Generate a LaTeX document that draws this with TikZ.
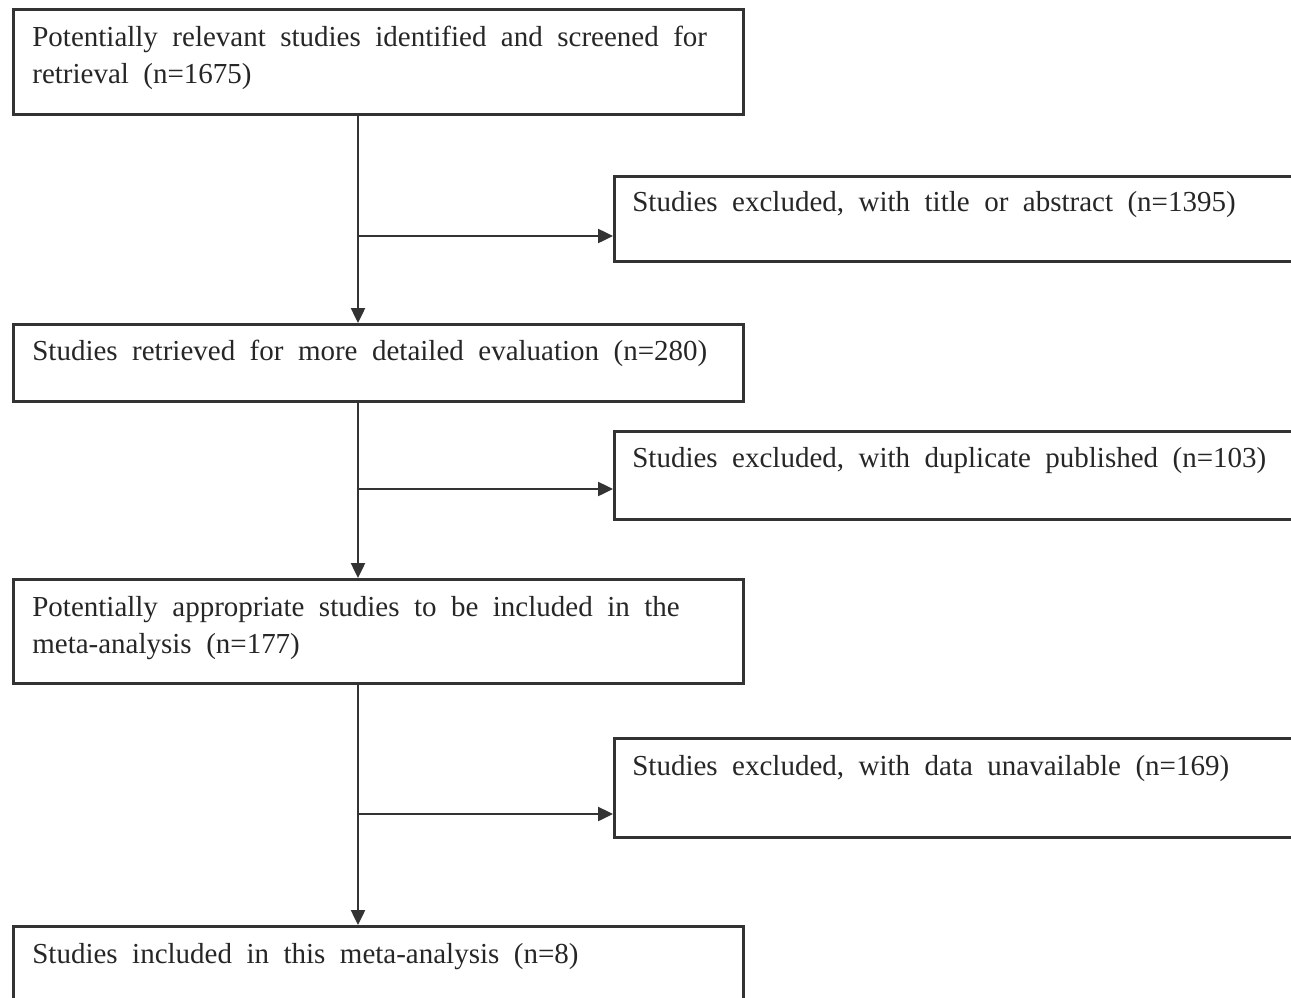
\documentclass[tikz,border=0pt]{standalone}
\usepackage{fontspec}
\setmainfont{Liberation Serif}
\usetikzlibrary{arrows.meta, positioning, calc}
\newcommand\boxfont{\fontsize{16.5}{21.6}\selectfont\spaceskip=0.5em plus 0.2em minus 0.1em}
\tikzset{
  box/.style = {rectangle, draw=black!80, line width=1.6pt, anchor=north west,
                inner sep=0pt},
  txt/.style = {anchor=base west, inner sep=0pt, align=left, text=black!85,
                font=\boxfont},
  arr/.style = {-{Triangle[length=3mm, width=2.8mm]}, line width=1.4pt,
                draw=black!80},
}

\begin{document}
\begin{tikzpicture}[x=0.02cm, y=-0.02cm]
  \useasboundingbox (0,0) rectangle (1291,997);
  \clip (0,0) rectangle (1291,997);

  % main column
  \node[box, minimum width=14.6cm, minimum height=2.1cm] (ident) at (12,8) {};
  \node[box, minimum width=14.6cm, minimum height=1.54cm] (retr) at (12,323) {};
  \node[box, minimum width=14.6cm, minimum height=2.08cm] (appr) at (12,578) {};
  \node[box, minimum width=14.6cm, minimum height=2.0cm] (incl) at (12,925) {};

  % exclusions
  \node[box, minimum width=14.6cm, minimum height=1.7cm] (excl1) at (613,175) {};
  \node[box, minimum width=14.6cm, minimum height=1.76cm] (excl2) at (613,430) {};
  \node[box, minimum width=14.6cm, minimum height=1.98cm] (excl3) at (613,737) {};

  % two-line texts: base is on the last line
  \node[txt] (ident-t) at ([shift={(0.4cm,-1.52cm)}]ident.north west)
    {Potentially relevant studies identified and screened for\\ retrieval (n=1675)};
  \node[txt] (retr-t) at ([shift={(0.4cm,-0.76cm)}]retr.north west)
    {Studies retrieved for more detailed evaluation (n=280)};
  \node[txt] (appr-t) at ([shift={(0.4cm,-1.52cm)}]appr.north west)
    {Potentially appropriate studies to be included in the\\ meta-analysis (n=177)};
  \node[txt] (incl-t) at ([shift={(0.4cm,-0.76cm)}]incl.north west)
    {Studies included in this meta-analysis (n=8)};
  \node[txt] (excl1-t) at ([shift={(0.38cm,-0.74cm)}]excl1.north west)
    {Studies excluded, with title or abstract (n=1395)};
  \node[txt] (excl2-t) at ([shift={(0.38cm,-0.76cm)}]excl2.north west)
    {Studies excluded, with duplicate published (n=103)};
  \node[txt] (excl3-t) at ([shift={(0.38cm,-0.76cm)}]excl3.north west)
    {Studies excluded, with data unavailable (n=169)};

  \coordinate (trunk) at (358,0);
  \coordinate (b1) at (613,236);
  \coordinate (b2) at (613,489);
  \coordinate (b3) at (613,814);

  \draw[arr] (ident.south -| trunk) -- (retr.north -| trunk);
  \draw[arr] (retr.south -| trunk) -- (appr.north -| trunk);
  \draw[arr] (appr.south -| trunk) -- (incl.north -| trunk);
  \draw[arr] (trunk |- b1) -- (b1 -| excl1.west);
  \draw[arr] (trunk |- b2) -- (b2 -| excl2.west);
  \draw[arr] (trunk |- b3) -- (b3 -| excl3.west);
\end{tikzpicture}
\end{document}
